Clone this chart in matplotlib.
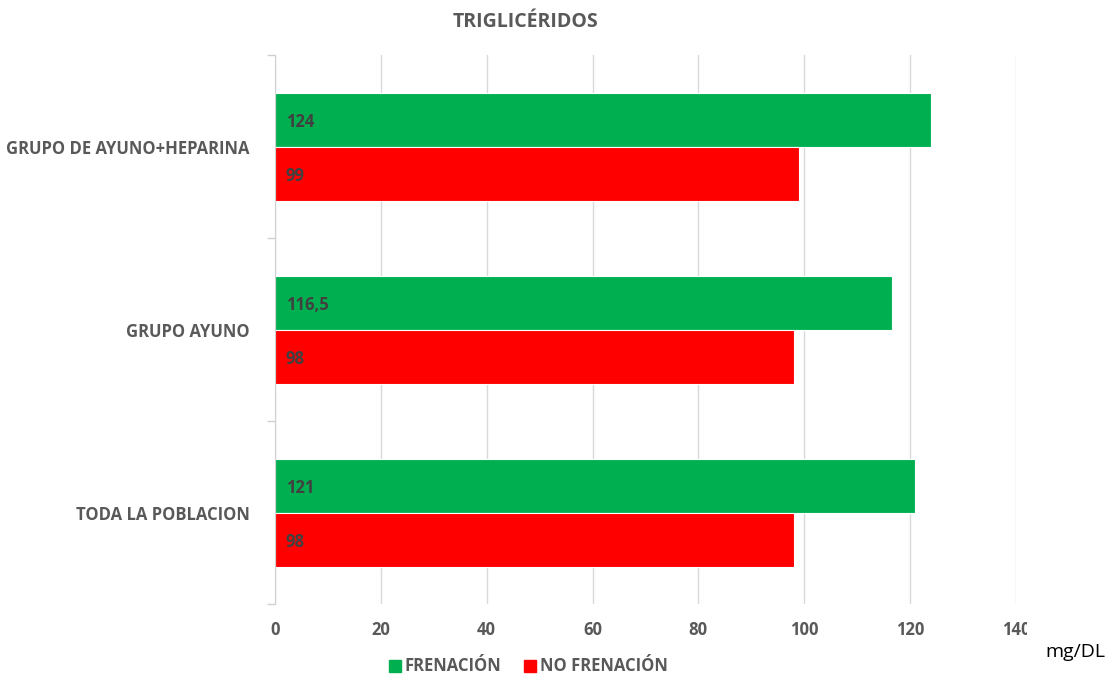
import matplotlib.pyplot as plt
from matplotlib.patches import Rectangle
from matplotlib.lines import Line2D

plt.rcParams['font.family'] = ['Open Sans', 'DejaVu Sans']

grupos = ["TODA LA POBLACION", "GRUPO AYUNO", "GRUPO DE AYUNO+HEPARINA"]
frenacion = [121, 116.5, 124]
no_frenacion = [98, 98, 99]
xticks = [0, 20, 40, 60, 80, 100, 120, 140]

VERDE = "#00b050"
ROJO = "#ff0000"
GRIS = "#595959"
FS = 12

fig = plt.figure(figsize=(11.1, 6.78), dpi=100)
ax = fig.add_axes([0.2477, 0.1091, 0.6676, 0.8097])

alto = 0.295
pos = list(range(len(grupos)))
b1 = ax.barh([p + alto / 2 for p in pos], frenacion, height=alto, color=VERDE,
             edgecolor="white", linewidth=0.8, zorder=3)
b2 = ax.barh([p - alto / 2 for p in pos], no_frenacion, height=alto, color=ROJO,
             edgecolor="white", linewidth=0.8, zorder=3)

def etiqueta(v):
    return f"{v:g}".replace(".", ",")

# rótulos de valor dentro de cada barra, pegados al eje
for barras, vals in ((b1, frenacion), (b2, no_frenacion)):
    for bar, v in zip(barras, vals):
        ax.text(2, bar.get_y() + bar.get_height() / 2 - 0.015, etiqueta(v),
                va="center", ha="left", fontsize=FS, fontweight="bold",
                color="#404040", zorder=4)

ax.set_xlim(0, 140)
ax.set_ylim(-0.5, 2.5)
ax.set_xticks(xticks)
ax.set_xticklabels([str(t) for t in xticks], fontsize=FS, fontweight="bold", color=GRIS)
ax.set_yticks(pos)
ax.set_yticklabels(grupos, fontsize=FS, fontweight="bold", color=GRIS)
ax.set_yticks([-0.5, 0.5, 1.5, 2.5], minor=True)
ax.tick_params(axis="y", which="major", length=0, pad=18)
ax.tick_params(axis="y", which="minor", length=6, color="#d0d0d0", width=1)
ax.tick_params(axis="x", length=0, pad=12)

ax.grid(axis="x", color="#d9d9d9", linewidth=1, zorder=0)
for s in ("top", "right", "bottom"):
    ax.spines[s].set_visible(False)
ax.spines["left"].set_color("#d0d0d0")
ax.spines["left"].set_zorder(5)

fig.text(0.473, 0.967, "TRIGLICÉRIDOS", ha="center", va="center",
         fontsize=14, fontweight="bold", color=GRIS)

# caja blanca de la unidad, tapa parte del último rótulo
fig.patches.append(Rectangle((1027 / 1110, 0), 83 / 1110, 0.09,
                             transform=fig.transFigure, facecolor="white",
                             edgecolor="none", zorder=10))
fig.text(0.9685, 0.0385, "mg/DL", ha="center", va="center", fontsize=14,
         color="black", zorder=11)

handles = [Line2D([], [], marker="s", linestyle="none", markersize=9,
                  markerfacecolor=VERDE, markeredgecolor=VERDE),
           Line2D([], [], marker="s", linestyle="none", markersize=9,
                  markerfacecolor=ROJO, markeredgecolor=ROJO)]
leg = fig.legend(handles, ["FRENACIÓN", "NO FRENACIÓN"], loc="center",
                 bbox_to_anchor=(0.475, 0.017), ncol=2, frameon=False,
                 handletextpad=0.1, columnspacing=1.2, handlelength=1.0,
                 prop={"size": FS, "weight": "bold"})
for t in leg.get_texts():
    t.set_color(GRIS)

fig.savefig("out.png", dpi=100)
